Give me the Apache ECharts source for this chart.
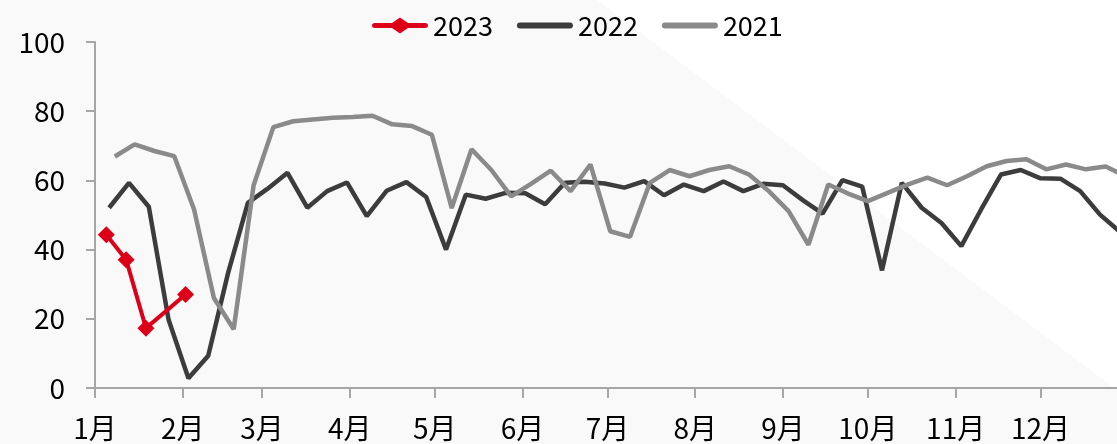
<!DOCTYPE html>
<html>
<head>
<meta charset="utf-8">
<script src="https://cdn.jsdelivr.net/npm/echarts@6/dist/echarts.min.js"></script>
<style>
  html, body { margin: 0; padding: 0; background: #ffffff; }
  #chart { width: 1117px; height: 444px; }
</style>
</head>
<body>
<div id="chart"></div>
<script>
// Weekly readings, dated MM-DD within each year
const dates2023 = ['01-05', '01-12', '01-19', '02-02'];
const values2023 = [44.3, 37.1, 17.3, 27.0];

const dates2022 = [
  '01-06', '01-13', '01-20', '01-27', '02-03', '02-10', '02-17', '02-24',
  '03-03', '03-10', '03-17', '03-24', '03-31', '04-07', '04-14', '04-21',
  '04-28', '05-05', '05-12', '05-19', '05-26', '06-02', '06-09', '06-16',
  '06-23', '06-30', '07-07', '07-14', '07-21', '07-28', '08-04', '08-11',
  '08-18', '08-25', '09-01', '09-08', '09-15', '09-22', '09-29', '10-06',
  '10-13', '10-20', '10-27', '11-03', '11-10', '11-17', '11-24', '12-01',
  '12-08', '12-15', '12-22', '12-29'
];
const values2022 = [
  52.1, 59.3, 52.4, 19.7, 2.8, 9.3, 33.2, 53.5,
  57.6, 62.2, 52.1, 56.9, 59.4, 49.7, 57.0, 59.5,
  55.2, 40.0, 55.9, 54.7, 56.4, 56.3, 53.1, 59.3,
  59.6, 59.1, 57.9, 59.8, 55.7, 58.8, 56.9, 59.7,
  56.9, 59.0, 58.6, 54.3, 50.4, 60.1, 58.2, 34.0,
  59.3, 52.1, 47.7, 41.0, 51.6, 61.7, 63.0, 60.6,
  60.5, 56.9, 50.1, 45.2
];

const dates2021 = [
  '01-08', '01-15', '01-22', '01-29', '02-05', '02-12', '02-19', '02-26',
  '03-05', '03-12', '03-19', '03-26', '04-02', '04-09', '04-16', '04-23',
  '04-30', '05-07', '05-14', '05-21', '05-28', '06-04', '06-11', '06-18',
  '06-25', '07-02', '07-09', '07-16', '07-23', '07-30', '08-06', '08-13',
  '08-20', '08-27', '09-03', '09-10', '09-17', '09-24', '10-01', '10-08',
  '10-15', '10-22', '10-29', '11-05', '11-12', '11-19', '11-26', '12-03',
  '12-10', '12-17', '12-24', '12-31'
];
const values2021 = [
  66.9, 70.4, 68.5, 67.0, 51.6, 26.0, 17.0, 58.5,
  75.4, 77.1, 77.6, 78.1, 78.3, 78.7, 76.2, 75.7,
  73.2, 52.0, 69.0, 63.0, 55.4, 59.0, 62.8, 56.9,
  64.6, 45.3, 43.7, 59.3, 63.0, 61.2, 63.0, 64.1,
  61.7, 56.9, 51.1, 41.4, 58.8, 56.2, 54.0, 56.4,
  58.8, 60.8, 58.6, 61.2, 64.1, 65.6, 66.1, 63.2,
  64.6, 63.2, 64.0, 61.2
];

const monthLabels = ['1月', '2月', '3月', '4月', '5月', '6月', '7月', '8月', '9月', '10月', '11月', '12月'];
const yTicks = [0, 20, 40, 60, 80, 100];

// Day-of-year (0 = Jan 1) on a common 365-day calendar
const monthLengths = [31, 28, 31, 30, 31, 30, 31, 31, 30, 31, 30, 31];
const monthStarts = monthLengths.reduce((acc, len, i) => {
  acc.push(i === 0 ? 0 : acc[i - 1] + monthLengths[i - 1]);
  return acc;
}, []);
function dayOfYear(md) {
  const [m, d] = md.split('-').map(Number);
  return monthStarts[m - 1] + d - 1;
}
function pairs(dates, values) {
  return dates.map((d, i) => [dayOfYear(d), values[i]]);
}

const FONT = "'Noto Sans CJK SC', 'Noto Sans', sans-serif";
const AXIS_COLOR = '#a6a6a6';
const RED = '#dc0018', DARK = '#3c3c3c', GREY = '#8a8a8a';

// legend keys: thick rounded strokes, the 2023 key carries a diamond
const ICON_BAR = 'path://M3,5 L53,5 Q56,5 56,8 Q56,11 53,11 L3,11 Q0,11 0,8 Q0,5 3,5 Z M0,0 L0,0 M56,16 L56,16';
const ICON_DIAMOND = 'path://M3,5.5 L20,5.5 L28,0 L36,5.5 L53,5.5 Q56,5.5 56,8 Q56,10.5 53,10.5 L36,10.5 L28,16 L20,10.5 L3,10.5 Q0,10.5 0,8 Q0,5.5 3,5.5 Z';

const chart = echarts.init(document.getElementById('chart'), null, { renderer: 'canvas' });

chart.setOption({
  backgroundColor: '#f9f9f9',
  animation: false,
  textStyle: { fontFamily: FONT },
  graphic: [{
    // pale diagonal panel behind the plot
    type: 'polygon',
    silent: true,
    z: -10,
    shape: { points: [[597, 0], [1117, 0], [1117, 390]] },
    style: { fill: '#ffffff' }
  }],
  legend: {
    left: 367,
    top: 7,
    itemWidth: 56,
    itemHeight: 16,
    itemGap: 24,
    data: [
      { name: '2023', icon: ICON_DIAMOND },
      { name: '2022', icon: ICON_BAR },
      { name: '2021', icon: ICON_BAR }
    ],
    textStyle: { fontFamily: FONT, fontSize: 27, color: '#000000' }
  },
  grid: { left: 95, right: 0, top: 42, bottom: 56, containLabel: false },
  xAxis: {
    type: 'value',
    min: 0,
    max: 361,
    splitLine: { show: false },
    axisLine: { show: true, lineStyle: { color: AXIS_COLOR, width: 2 } },
    axisTick: {
      show: true,
      length: 10,
      inside: false,
      customValues: monthStarts,
      lineStyle: { color: AXIS_COLOR, width: 2 }
    },
    axisLabel: {
      customValues: monthStarts,
      margin: 26,
      fontFamily: FONT,
      fontSize: 28,
      color: '#000000',
      formatter: (v) => monthLabels[monthStarts.indexOf(v)] || ''
    }
  },
  yAxis: {
    type: 'value',
    min: yTicks[0],
    max: yTicks[yTicks.length - 1],
    interval: 20,
    splitLine: { show: false },
    axisLine: { show: true, lineStyle: { color: AXIS_COLOR, width: 2 } },
    axisTick: { show: true, length: 9, lineStyle: { color: AXIS_COLOR, width: 2 } },
    axisLabel: { margin: 30, fontFamily: FONT, fontSize: 28, color: '#000000' }
  },
  series: [
    {
      name: '2022',
      type: 'line',
      data: pairs(dates2022, values2022),
      symbol: 'none',
      clip: true,
      lineStyle: { color: DARK, width: 4.5 },
      itemStyle: { color: DARK },
      z: 2
    },
    {
      name: '2021',
      type: 'line',
      data: pairs(dates2021, values2021),
      symbol: 'none',
      clip: true,
      lineStyle: { color: GREY, width: 4.5 },
      itemStyle: { color: GREY },
      z: 3
    },
    {
      name: '2023',
      type: 'line',
      data: pairs(dates2023, values2023),
      symbol: 'diamond',
      symbolSize: 17,
      clip: true,
      lineStyle: { color: RED, width: 4 },
      itemStyle: { color: RED },
      z: 4
    }
  ]
});
</script>
</body>
</html>
